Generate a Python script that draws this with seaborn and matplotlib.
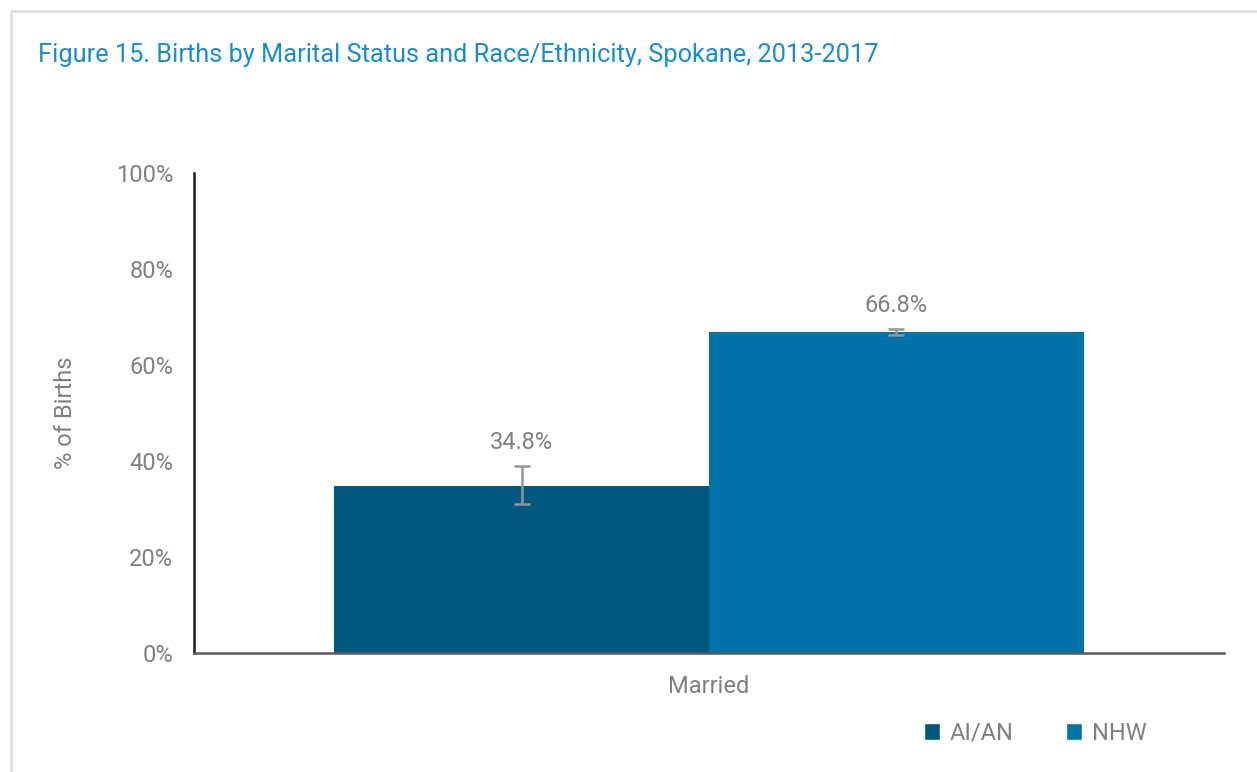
import pandas as pd
import matplotlib.pyplot as plt
import seaborn as sns
from matplotlib.lines import Line2D
from matplotlib.patches import Patch

#-----------------------------------------------------------
categories = ['Married']
groups = ['AI/AN', 'NHW']
values = [34.8, 66.8]
err_low = [31.0, 66.2]
err_high = [38.9, 67.5]
labels = ['34.8%', '66.8%']
yticks = [0, 20, 40, 60, 80, 100]
colors = ['#03587f', '#0073a9']

sns.set_style('white')
plt.rcParams['font.family'] = ['Roboto', 'DejaVu Sans']

df = pd.DataFrame({'status': categories * len(groups), 'race': groups, 'pct': values})

fig = plt.figure(figsize=(12.57, 7.72), dpi=100)
ax = fig.add_axes([194 / 1257, 1 - 653 / 772, 1030 / 1257, 480 / 772])

sns.barplot(data=df, x='status', y='pct', hue='race', palette=colors,
            width=0.728, gap=0, saturation=1, legend=False, linewidth=0, ax=ax)

# error bars + value labels
for bar, v, lo, hi, lab in zip(ax.patches, values, err_low, err_high, labels):
    cx = bar.get_x() + bar.get_width() / 2
    ax.errorbar(cx, v, yerr=[[v - lo], [hi - v]], fmt='none', ecolor='#959595',
                elinewidth=1.8, capsize=6, capthick=1.8, zorder=3)
    ax.text(cx, hi + 2.5, lab, ha='center', va='bottom', fontsize=17, color='#808080')

ax.set_ylim(0, 100)
ax.set_xlim(-0.5, 0.5)
ax.set_yticks(yticks)
ax.set_yticklabels([f'{t}%' for t in yticks])
ax.tick_params(axis='y', length=0, pad=15, labelsize=17, labelcolor='#808080')
ax.tick_params(axis='x', length=0, pad=16, labelsize=17, labelcolor='#808080')
ax.set_xlabel('')
ax.set_ylabel('% of Births', fontsize=17, color='#808080', labelpad=28)
for s in ['top', 'right']:
    ax.spines[s].set_visible(False)
ax.spines['left'].set_color('#1a1a1a')
ax.spines['left'].set_linewidth(1.8)
ax.spines['bottom'].set_color('#595959')
ax.spines['bottom'].set_linewidth(1.8)

handles = [Patch(facecolor=c, label=g) for c, g in zip(colors, groups)]
fig.legend(handles=handles, loc='center', bbox_to_anchor=(1035 / 1257, 1 - 733 / 772),
           ncol=2, frameon=False, fontsize=17, labelcolor='#808080', handlelength=0.7,
           handleheight=0.7, handletextpad=0.4, columnspacing=2.2)

fig.text(38 / 1257, 1 - 55 / 772,
         'Figure 15. Births by Marital Status and Race/Ethnicity, Spokane, 2013-2017',
         fontsize=18.3, color='#1a8dcc', va='center', ha='left')

# frame lines at top and left
fig.add_artist(Line2D([10.5 / 1257, 1], [1 - 10.5 / 772] * 2, color='#e0e0e0', lw=2))
fig.add_artist(Line2D([10.5 / 1257] * 2, [0, 1 - 10.5 / 772], color='#e0e0e0', lw=2))

fig.savefig('out.png', dpi=100)
